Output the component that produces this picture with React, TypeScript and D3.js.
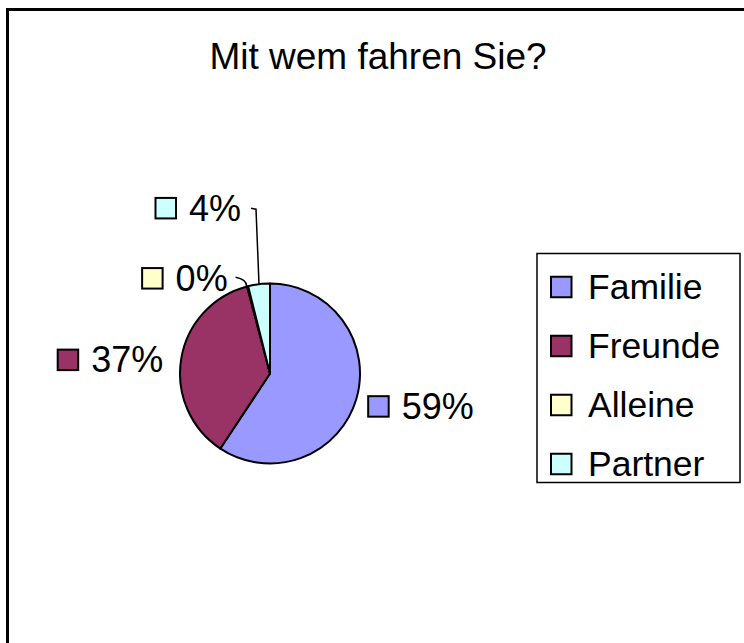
import React from "react";
import * as d3 from "d3";

const title = "Mit wem fahren Sie?";
const categories = ["Familie", "Freunde", "Alleine", "Partner"];
const values = [59.3, 36.6, 0.2, 3.9];
const colors = ["#9999FF", "#993366", "#FFFFCC", "#CCFFFF"];

const W = 744;
const H = 643;
const FONT = "'Liberation Sans', Arial, sans-serif";

export default function App() {
  const cx = 270;
  const cy = 373.5;
  const r = 90;
  const total = d3.sum(values);
  const fmt = d3.format(".0%");

  const pie = d3
    .pie<number>()
    .sort(null)
    .value((d) => d)
    .startAngle(0)
    .endAngle(2 * Math.PI);
  const arcs = pie(values);
  const arc = d3.arc<d3.PieArcDatum<number>>().innerRadius(0).outerRadius(r);

  const edge = (a: number, rad: number) => [
    cx + rad * Math.sin(a),
    cy - rad * Math.cos(a),
  ];

  const labelLayout = [
    { dx: 11, dy: 7, anchor: "start", leader: false },
    { dx: -18, dy: 1, anchor: "end", leader: false },
    { dx: -20, dy: -8, anchor: "end", leader: true },
    { dx: -18, dy: -76, anchor: "end", leader: true },
  ];

  const fontSize = 36;
  const sw = 22.5;
  const gap = 12;

  const labels = arcs.map((a, i) => {
    const mid = (a.startAngle + a.endAngle) / 2;
    const [ex, ey] = edge(mid, r);
    const L = labelLayout[i];
    const text = fmt(a.data / total);
    const tw = text.length === 3 ? 72 : 52;
    const boxW = sw + gap + tw;
    const x0 = L.anchor === "start" ? ex + L.dx : ex + L.dx - boxW;
    const yc = ey + L.dy;
    return { i, text, x0, yc, ex, ey, L, boxW };
  });

  const legendX = 537;
  const legendY = 253.5;
  const legendW = 203;
  const legendH = 229;
  const rowY = d3
    .scalePoint<string>()
    .domain(categories)
    .range([legendY + 33.5, legendY + 210.5]);

  return (
    <svg width={W} height={H} style={{ position: "absolute", left: 0, top: 0, background: "#fff" }}>
      <rect x={0} y={0} width={W} height={H} fill="#fff" />
      <rect x={7.5} y={9.5} width={W + 20} height={H + 20} fill="none" stroke="#000" strokeWidth={3} />
      <text x={378} y={69} textAnchor="middle" fontFamily={FONT} fontSize={37} fill="#000">
        {title}
      </text>

      <g>
        {arcs.map((a, i) => (
          <path
            key={i}
            d={arc(a) as string}
            transform={`translate(${cx},${cy})`}
            fill={colors[i]}
            stroke="#000"
            strokeWidth={2}
            strokeLinejoin="round"
          />
        ))}
      </g>

      {labels.map((l) => {
        const right = l.x0 + l.boxW;
        let leader = null;
        if (l.L.leader) {
          if (l.i === 2) {
            leader = (
              <path
                d={`M${right + 8},${l.yc - 1} Q${l.ex - 1},${l.ey - 7} ${l.ex - 1},${l.ey}`}
                fill="none"
                stroke="#000"
                strokeWidth={1.5}
              />
            );
          } else {
            leader = (
              <path
                d={`M${right + 10},${l.yc} L${right + 15},${l.yc + 1} L${l.ex},${l.ey}`}
                fill="none"
                stroke="#000"
                strokeWidth={1.5}
              />
            );
          }
        }
        return (
          <g key={l.i}>
            <rect
              x={l.x0 + 1}
              y={l.yc - sw / 2 + 1}
              width={sw - 2}
              height={sw - 2}
              fill={colors[l.i]}
              stroke="#000"
              strokeWidth={2}
            />
            <text
              x={l.x0 + sw + gap}
              y={l.yc + 12.5}
              fontFamily={FONT}
              fontSize={fontSize}
              fill="#000"
            >
              {l.text}
            </text>
            {leader}
          </g>
        );
      })}

      <rect x={legendX} y={legendY} width={legendW} height={legendH} fill="#fff" stroke="#000" strokeWidth={1.5} />
      {categories.map((c, i) => {
        const y = rowY(c) as number;
        return (
          <g key={c}>
            <rect
              x={legendX + 14}
              y={y - 10.25}
              width={sw - 2}
              height={sw - 2}
              fill={colors[i]}
              stroke="#000"
              strokeWidth={2}
            />
            <text x={legendX + 51} y={y + 11.5} fontFamily={FONT} fontSize={35.5} fill="#000">
              {c}
            </text>
          </g>
        );
      })}
    </svg>
  );
}
